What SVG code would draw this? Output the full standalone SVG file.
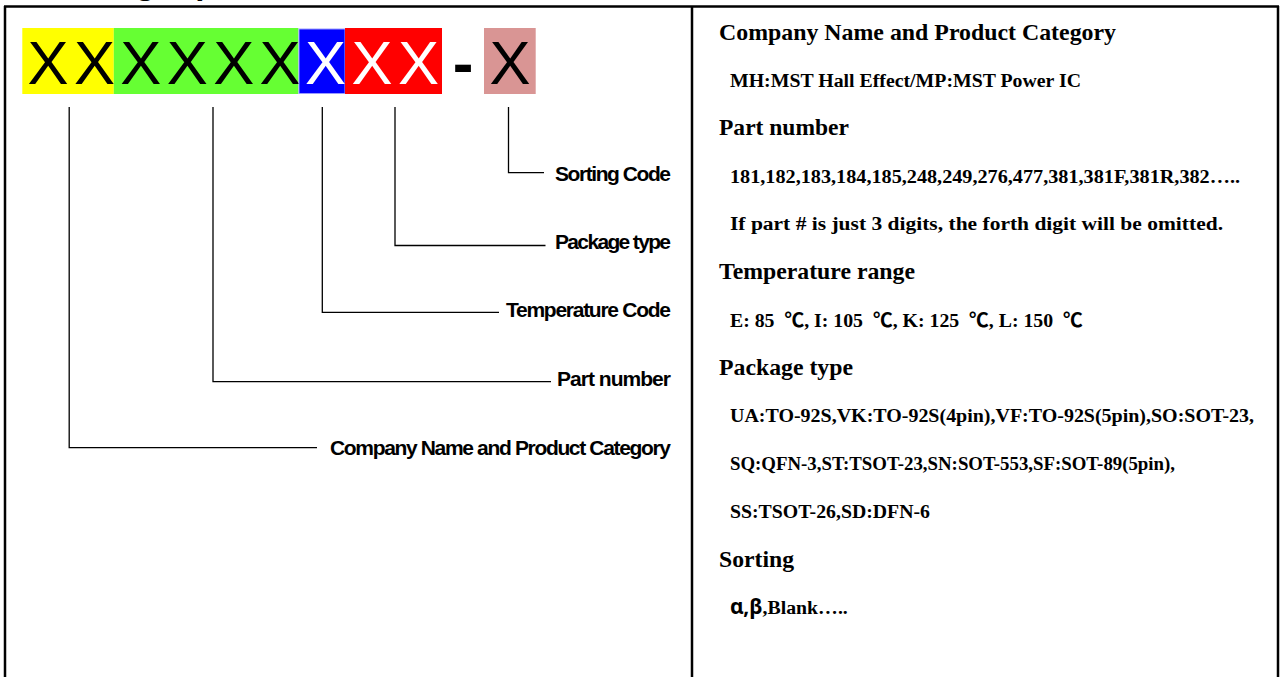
<svg xmlns="http://www.w3.org/2000/svg" width="1280" height="677" viewBox="0 0 1280 677">
<style>
.border{stroke:#000;stroke-width:2.5;fill:none}
.conn{stroke:#000;stroke-width:1.3;fill:none}
.bigx{font-family:"Liberation Sans",Arial,sans-serif;font-size:61.5px;letter-spacing:5.4px}
.lbl{font-family:"Liberation Sans",Arial,sans-serif;font-size:21px;font-weight:bold;fill:#000}
.hd{font-family:"Liberation Serif","Times New Roman",serif;font-size:24px;font-weight:bold;fill:#000}
.sub{font-family:"Liberation Serif","Times New Roman",serif;font-size:19.8px;font-weight:bold;fill:#000}
.cjk{font-family:"Noto Sans CJK SC","Noto Sans",sans-serif;font-weight:bold}
.gr{font-family:"Noto Sans","Liberation Sans",sans-serif;font-weight:bold;font-size:21px}
.title{font-family:"Liberation Serif","Times New Roman",serif;font-size:34px;font-weight:bold;font-style:italic}
</style>
<rect x="0" y="0" width="1280" height="677" fill="#fff"/>
<text class="title" x="28.5" y="-6">Ordering Information</text>
<g id="table">
<line class="border" x1="4" y1="6.5" x2="1279" y2="6.5"/>
<line class="border" x1="5" y1="6" x2="5" y2="677"/>
<line class="border" x1="692" y1="6" x2="692" y2="677"/>
<line class="border" x1="1278" y1="6" x2="1278" y2="677"/>
</g>
<g id="seg-company">
<rect x="22.3" y="28" width="91.5" height="66" fill="#FFFF00"/>
<text class="bigx" x="27.5" y="84" fill="#000">XX</text>
</g>
<g id="seg-part">
<rect x="113.8" y="28" width="184.6" height="66" fill="#66FF33"/>
<text class="bigx" x="120.3" y="84" fill="#000">XXXX</text>
</g>
<g id="seg-temp">
<rect x="299" y="29" width="46" height="64.5" fill="#0000FF" stroke="#9a9aff" stroke-width="1"/>
<text class="bigx" x="305" y="84" fill="#fff">X</text>
</g>
<g id="seg-package">
<rect x="345" y="28" width="97" height="66" fill="#FF0000"/>
<text class="bigx" x="351.6" y="84" fill="#fff">XX</text>
</g>
<g id="seg-dash">
<text x="463" y="84" text-anchor="middle" style="font-family:'Liberation Sans',Arial,sans-serif;font-size:62px;font-weight:bold">-</text>
</g>
<g id="seg-sorting">
<rect x="484" y="28" width="51.7" height="66" fill="#D99594"/>
<text class="bigx" x="489.5" y="84" fill="#000">X</text>
</g>
<g id="connectors">
<polyline class="conn" points="508.5,107 508.5,172.7 544,172.7"/>
<polyline class="conn" points="395,107 395,245.5 545.5,245.5"/>
<polyline class="conn" points="322.3,107 322.3,312.3 499,312.3"/>
<polyline class="conn" points="213,107 213,381.7 551,381.7"/>
<polyline class="conn" points="69.2,107 69.2,447.7 317,447.7"/>
</g>
<g id="labels">
<text class="lbl" x="555" y="181" textLength="116">Sorting Code</text>
<text class="lbl" x="555" y="248.5" textLength="116">Package type</text>
<text class="lbl" x="506" y="317" textLength="165">Temperature Code</text>
<text class="lbl" x="557" y="385.5" textLength="114">Part number</text>
<text class="lbl" x="330" y="455" textLength="341">Company Name and Product Category</text>
</g>
<g id="desc">
<text class="hd" x="719" y="40" textLength="397" lengthAdjust="spacingAndGlyphs">Company Name and Product Category</text>
<text class="sub" x="730" y="87" textLength="351" lengthAdjust="spacingAndGlyphs">MH:MST Hall Effect/MP:MST Power IC</text>
<text class="hd" x="719" y="135" textLength="130" lengthAdjust="spacingAndGlyphs">Part number</text>
<text class="sub" x="730" y="183" textLength="510" lengthAdjust="spacingAndGlyphs">181,182,183,184,185,248,249,276,477,381,381F,381R,382…..</text>
<text class="sub" x="730" y="230" textLength="493" lengthAdjust="spacingAndGlyphs">If part # is just 3 digits, the forth digit will be omitted.</text>
<text class="hd" x="719" y="279" textLength="196" lengthAdjust="spacingAndGlyphs">Temperature range</text>
<text class="sub" x="730" y="327">E: 85&#160; <tspan class="cjk">℃</tspan>, I: 105&#160; <tspan class="cjk">℃</tspan>, K: 125&#160; <tspan class="cjk">℃</tspan>, L: 150&#160; <tspan class="cjk">℃</tspan></text>
<text class="hd" x="719" y="375" textLength="134" lengthAdjust="spacingAndGlyphs">Package type</text>
<text class="sub" x="730" y="422" textLength="524" lengthAdjust="spacingAndGlyphs">UA:TO-92S,VK:TO-92S(4pin),VF:TO-92S(5pin),SO:SOT-23,</text>
<text class="sub" x="730" y="470" textLength="445" lengthAdjust="spacingAndGlyphs">SQ:QFN-3,ST:TSOT-23,SN:SOT-553,SF:SOT-89(5pin),</text>
<text class="sub" x="730" y="518" textLength="200" lengthAdjust="spacingAndGlyphs">SS:TSOT-26,SD:DFN-6</text>
<text class="hd" x="719" y="567" textLength="75" lengthAdjust="spacingAndGlyphs">Sorting</text>
<text class="sub" x="730" y="614"><tspan class="gr">α,β</tspan>,Blank…..</text>
</g>
</svg>
